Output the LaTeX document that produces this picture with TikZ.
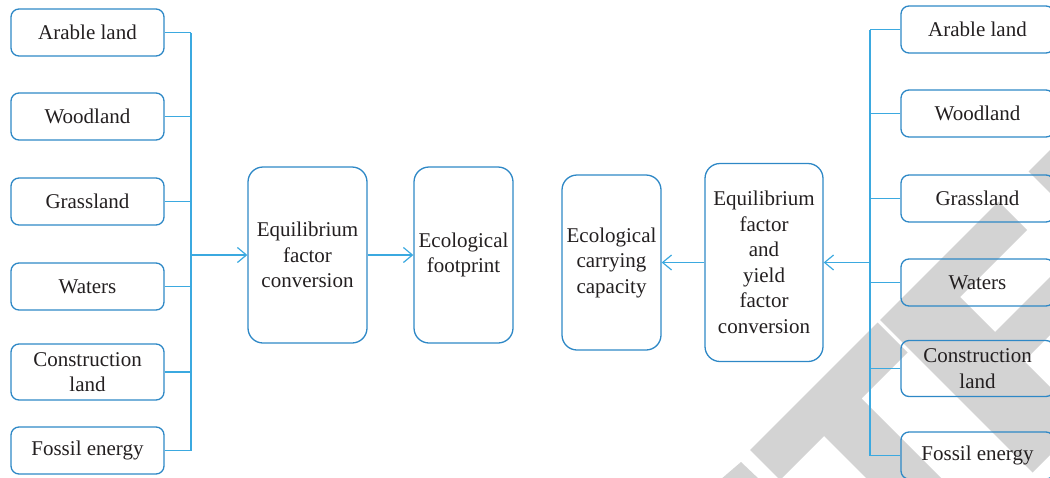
\documentclass[tikz,border=0pt]{standalone}
\usepackage{fontspec}
\setmainfont{Liberation Serif}
\usetikzlibrary{arrows.meta}
\definecolor{boxblue}{HTML}{2E88C6}
\definecolor{linkblue}{HTML}{3BA9E0}
\definecolor{txt}{HTML}{231F20}
\definecolor{wmgrey}{HTML}{D3D3D3}
\tikzset{
  lbl/.style={text=txt, font=\fontsize{21}{25.5}\selectfont, align=center, inner sep=0pt},
  leaf/.style={lbl, draw=boxblue, line width=1.3pt, rounded corners=8pt, minimum width=153pt, minimum height=47pt},
  tall/.style={lbl, draw=boxblue, line width=1.3pt, rounded corners=15pt},
  link/.style={draw=linkblue, line width=1.2pt},
  arr/.style={link, -{Straight Barb[length=9pt,width=15pt]}},
  wm/.style={fill=wmgrey, draw=none}
}
\begin{document}
\begin{tikzpicture}[x=1pt,y=-1pt]
\useasboundingbox (0,0) rectangle (1050,477);
% watermark (letters of a diagonal stamp)
\begin{scope}
\clip (0,0) rectangle (1050,477);
\fill[wm] (720,480) -- (741,462) -- (760,480) -- cycle;
\fill[wm] (750,450) -- (877.5,322.5) -- (907.5,352.5) -- (861.5,398.5) -- (984,521) -- (946.5,558.5) -- (824,436) -- (780,480) -- cycle;
\fill[wm] (880,320) -- (998.5,201.5) -- (1027,230) -- (960,297) -- (995,332) -- (1051,276) -- (1080,305) -- (1024,361) -- (1056.5,393.5) -- (1125,325) -- (1152.5,352.5) -- (1032.5,472.5) -- cycle;
\fill[wm] (1028.5,171.5) -- (1100,100) -- (1250,250) -- (1181,324) -- cycle;
\end{scope}
% left column
\node[leaf] (la1) at (87.5,32.5) {Arable land};
\node[leaf] (la2) at (87.5,116.5) {Woodland};
\node[leaf] (la3) at (87.5,201.5) {Grassland};
\node[leaf] (la4) at (87.5,286.5) {Waters};
\node[leaf, minimum height=56pt] (la5) at (87.5,372) {Construction\\land};
\node[leaf] (la6) at (87.5,450.5) {Fossil energy};
% middle
\node[tall, minimum width=119pt, minimum height=176pt] (efc) at (307.5,255) {Equilibrium\\factor\\conversion};
\node[tall, minimum width=99pt, minimum height=176pt] (ef) at (463.5,255) {Ecological\\footprint};
\node[tall, minimum width=99pt, minimum height=175pt] (ecc) at (611.5,262.5) {Ecological\\carrying\\capacity};
\node[tall, minimum width=118pt, minimum height=198pt] (efy) at (764,262.5) {Equilibrium\\factor\\and\\yield\\factor\\conversion};
% right column
\node[leaf] (ra1) at (977.5,29.5) {Arable land};
\node[leaf] (ra2) at (977.5,113.5) {Woodland};
\node[leaf] (ra3) at (977.5,198.5) {Grassland};
\node[leaf] (ra4) at (977.5,282.5) {Waters};
\node[leaf, minimum height=56pt] (ra5) at (977.5,368.5) {Construction\\land};
\node[leaf] (ra6) at (977.5,455.5) {Fossil energy};
% buses
\coordinate (lbus) at (191,0);
\coordinate (rbus) at (870,0);
\foreach \n in {la1,la2,la3,la4,la5,la6}{
  \draw[link] (\n.east) -- (\n.east -| lbus);
}
\draw[link] (la1.east -| lbus) -- (la6.east -| lbus);
\foreach \n in {ra1,ra2,ra3,ra4,ra5,ra6}{
  \draw[link] (\n.west) -- (\n.west -| rbus);
}
\draw[link] (ra1.west -| rbus) -- (ra6.west -| rbus);
% arrows
\draw[arr] (efc.west -| lbus) -- (efc.west);
\draw[arr] (efc.east) -- (ef.west);
\draw[arr] (efy.east -| rbus) -- (efy.east);
\draw[arr] (efy.west) -- (ecc.east);
\end{tikzpicture}
\end{document}
